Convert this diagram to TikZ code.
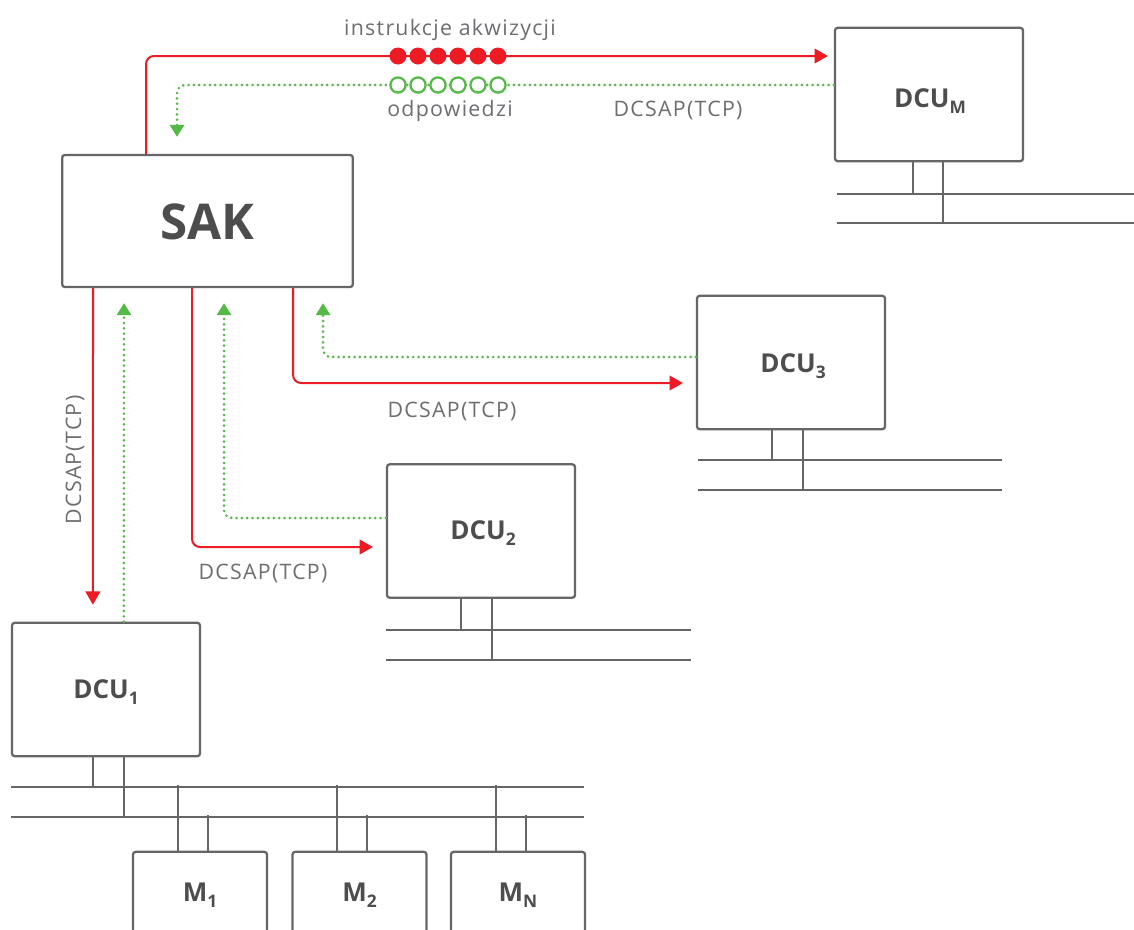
\documentclass[tikz,border=0pt]{standalone}
\usepackage{fontspec}
\setmainfont{Open Sans}
\newfontfamily\lblfont[LetterSpace=6]{Open Sans}
\usetikzlibrary{arrows.meta,calc}
\definecolor{boxgray}{HTML}{666666}
\definecolor{txtgray}{HTML}{6D6E71}
\definecolor{lblgray}{HTML}{4D4D4D}
\definecolor{redc}{HTML}{ED1C24}
\definecolor{greenc}{HTML}{55B947}
\newcommand{\lowsub}[1]{\raisebox{-0.4ex}{\fontsize{13}{13}\selectfont #1}}
\tikzset{
  box/.style={draw=boxgray, line width=1.7pt, rounded corners=2pt, minimum width=141pt, minimum height=100pt, inner sep=0pt},
  mbox/.style={draw=boxgray, line width=1.7pt, rounded corners=2pt, minimum width=100.5pt, minimum height=100pt, inner sep=0pt},
  boxtext/.style={text=lblgray, font=\fontsize{19.5}{19.5}\selectfont\bfseries},
  bus/.style={draw=boxgray, line width=1.5pt},
  redarr/.style={draw=redc, line width=1.5pt, rounded corners=6pt, -{Triangle[length=10pt,width=11pt]}},
  greenarr/.style={draw=greenc, line width=2.2pt, line cap=round, dash pattern=on 0pt off 4pt, rounded corners=6pt, -{Triangle[length=9pt,width=10.5pt]}},
  lbl/.style={text=txtgray, font=\lblfont\fontsize{16}{16}\selectfont, inner sep=0pt}
}
\begin{document}
\begin{tikzpicture}[x=0.75pt,y=-0.75pt]
\clip (0,0) rectangle (1134,929);
\fill[white] (0,0) rectangle (1134,929);
% boxes
\node[box, minimum width=218pt, minimum height=99pt] (sak) at (207.5,221) {};
\node[boxtext, font=\fontsize{37}{37}\selectfont\bfseries] (saktxt) at (207,222) {SAK};
\node[box] (dcuM) at (929,94.5) {};
\node[boxtext] (dcuMt) at (930,101) {DCU\lowsub{M}};
\node[box] (dcu3) at (791,362.5) {};
\node[boxtext] (dcu3t) at (793,366) {DCU\lowsub{3}};
\node[box] (dcu2) at (481,531) {};
\node[boxtext] (dcu2t) at (483,533) {DCU\lowsub{2}};
\node[box] (dcu1) at (106,689.5) {};
\node[boxtext] (dcu1t) at (106,692) {DCU\lowsub{1}};
\node[mbox] (m1) at (200,918.5) {};
\node[mbox] (m2) at (359.5,918.5) {};
\node[mbox] (mN) at (518,918.5) {};
\node[boxtext] (m1t) at (200,895) {M\lowsub{1}};
\node[boxtext] (m2t) at (359.5,895) {M\lowsub{2}};
\node[boxtext] (mNt) at (518,895) {M\lowsub{N}};
% buses DCU_M
\draw[bus] ($(dcuM.south west)+(79,0)$) -- ($(dcuM.south west)+(79,32)$);
\draw[bus] ($(dcuM.south west)+(109,0)$) -- ($(dcuM.south west)+(109,61)$);
\draw[bus] ($(dcuM.south west)+(3,32)$) -- ++(300,0);
\draw[bus] ($(dcuM.south west)+(3,61)$) -- ++(300,0);
% buses DCU3
\draw[bus] ($(dcu3.south west)+(76,0)$) -- ($(dcu3.south west)+(76,30)$);
\draw[bus] ($(dcu3.south west)+(107,0)$) -- ($(dcu3.south west)+(107,60)$);
\draw[bus] ($(dcu3.south west)+(2,30)$) -- ++(304,0);
\draw[bus] ($(dcu3.south west)+(2,60)$) -- ++(304,0);
% buses DCU2
\draw[bus] ($(dcu2.south west)+(75,0)$) -- ($(dcu2.south west)+(75,31)$);
\draw[bus] ($(dcu2.south west)+(106,0)$) -- ($(dcu2.south west)+(106,61)$);
\draw[bus] ($(dcu2.south west)+(0,31)$) -- ++(305,0);
\draw[bus] ($(dcu2.south west)+(0,61)$) -- ++(305,0);
% buses DCU1
\draw[bus] ($(dcu1.south west)+(82,0)$) -- ($(dcu1.south west)+(82,30)$);
\draw[bus] ($(dcu1.south west)+(113,0)$) -- ($(dcu1.south west)+(113,60)$);
\draw[bus] ($(dcu1.south west)+(0,30)$) -- ++(573,0);
\draw[bus] ($(dcu1.south west)+(0,60)$) -- ++(573,0);
% M connections
\foreach \m in {m1,m2,mN}{
  \draw[bus] ($(\m.north west)+(46,0)$) -- ($(\m.north west)+(46,-66)$);
  \draw[bus] ($(\m.north west)+(76,0)$) -- ($(\m.north west)+(76,-36)$);
}
% top connectors
\draw[redarr] ($(sak.north west)+(85,0)$) |- ($(dcuM.west)+(-6,-38.5)$);
\draw[greenarr] ($(dcuM.west)+(0,-9.5)$) -| ($(sak.north west)+(116,-17)$);
\foreach \x in {398,418,...,498}{
  \fill[redc] (\x,56) circle (8.5);
  \draw[greenc, line width=1.7pt, fill=white] (\x,85) circle (7.6);
}
\node[lbl] (instr) at (450,30) {instrukcje akwizycji};
\node[lbl] (odp) at (450,111) {odpowiedzi};
\node[lbl] (dcsapM) at (678,110) {DCSAP(TCP)};
% DCU1
\draw[redarr] ($(sak.south west)+(32,0)$) -- ($(dcu1.north west)+(82,-17)$);
\draw[greenarr] ($(dcu1.north west)+(113,0)$) -- ($(sak.south west)+(63,15)$);
\node[lbl, rotate=90] (dcsap1) at (75,460) {DCSAP(TCP)};
% DCU2
\draw[redarr] ($(sak.south west)+(131,0)$) |- ($(dcu2.west)+(-13,16)$);
\draw[greenarr] ($(dcu2.west)+(0,-13)$) -| ($(sak.south west)+(163,15)$);
\node[lbl] (dcsap2) at (263,573) {DCSAP(TCP)};
% DCU3
\draw[redarr] ($(sak.south west)+(232,0)$) |- ($(dcu3.west)+(-13,20.5)$);
\draw[greenarr] ($(dcu3.west)+(0,-5.5)$) -| ($(sak.south west)+(262,15)$);
\node[lbl] (dcsap3) at (452,411) {DCSAP(TCP)};
\end{tikzpicture}
\end{document}
